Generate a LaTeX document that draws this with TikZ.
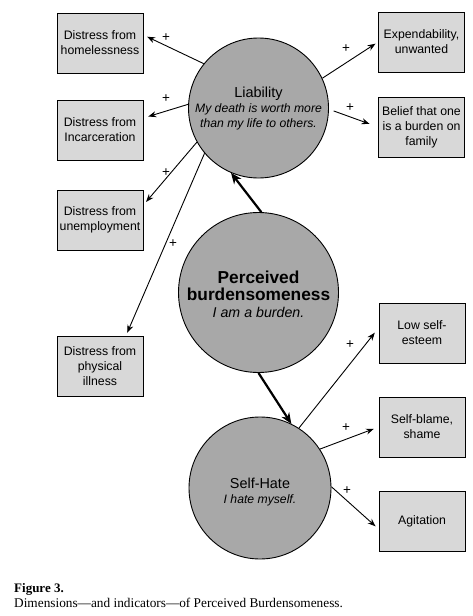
\documentclass[tikz,border=0pt]{standalone}
\usepackage{fontspec}
\setmainfont{Liberation Sans}
\newfontfamily\capfont{Liberation Serif}
\usetikzlibrary{arrows.meta}
\definecolor{circfill}{HTML}{A8A8A8}
\definecolor{boxfill}{HTML}{D8D8D8}
\begin{document}
\begin{tikzpicture}[x=1pt,y=-1pt,
  box/.style={draw, line width=0.9pt, fill=boxfill, minimum width=86pt, minimum height=60pt, inner sep=0pt, align=center, font=\fontsize{12.3}{15}\selectfont},
  circ/.style={circle, draw, line width=0.9pt, fill=circfill, inner sep=0pt},
  arr/.style={line width=0.9pt, -{Stealth[length=8pt,width=6pt]}},
  bigarr/.style={line width=2.2pt, -{Stealth[length=11pt,width=9pt]}},
  plus/.style={font=\fontsize{13.5}{14}\selectfont, inner sep=0pt},
  ctext/.style={align=center, inner sep=0pt}]
\useasboundingbox (0,0) rectangle (473,616);
\fill[white] (0,0) rectangle (473,616);
% circles
\node[circ, minimum size=140pt] (liab) at (258.5,108) {};
\node[circ, minimum size=160pt] (perc) at (258.5,292.5) {};
\node[circ, minimum size=142pt] (self) at (260,488) {};
\node[ctext, font=\fontsize{12.2}{15}\selectfont] (liabt) at (258.5,109)
  {\fontsize{14.5}{18}\selectfont Liability\\
   \fontsize{12.2}{15}\selectfont\itshape My death is worth more\\
   \fontsize{12.2}{15}\selectfont\itshape than my life to others.};
\node[ctext, font=\fontsize{14.2}{17}\selectfont] (perct) at (258.5,294.5)
  {\fontsize{17.3}{20}\selectfont\bfseries Perceived\\
   \fontsize{17.3}{20}\selectfont\bfseries burdensomeness\\
   \fontsize{14.2}{18}\selectfont\itshape I am a burden.};
\node[ctext, font=\fontsize{12.2}{15}\selectfont] (selft) at (260,492.5)
  {\fontsize{14.4}{18}\selectfont Self-Hate\\
   \fontsize{12.2}{15}\selectfont\itshape I hate myself.};
% boxes
\node[box] (home) at (100,43) {Distress from\\homelessness};
\node[box] (incar) at (100,130) {Distress from\\Incarceration};
\node[box] (unemp) at (100,220) {Distress from\\unemployment};
\node[box] (phys) at (100,366) {Distress from\\physical\\illness};
\node[box] (expend) at (421.5,42) {Expendability,\\unwanted};
\node[box] (belief) at (421.5,127) {Belief that one\\is a burden on\\family};
\node[box] (lowse) at (422,333) {Low self-\\esteem};
\node[box] (blame) at (422,427) {Self-blame,\\shame};
\node[box] (agit) at (422,521) {Agitation};
% thin arrows
\draw[arr, shorten >=4pt] (liab.141) -- ([yshift=8pt]home.east);
\draw[arr, shorten >=5pt] (liab.177) -- ([yshift=12pt]incar.east);
\draw[arr, shorten >=4pt] (liab.209) -- ([yshift=15pt]unemp.east);
\draw[arr, shorten >=3pt] (liab.220) -- ([xshift=26pt]phys.north);
\draw[arr, shorten >=3pt] (liab.25) -- (expend.west);
\draw[arr, shorten <=5pt, shorten >=9pt] (liab.-1) -- (belief.west);
\draw[arr, shorten >=6pt] (self.57) -- ([yshift=5pt]lowse.west);
\draw[arr, shorten >=5pt] (self.33) -- (blame.west);
\draw[arr, shorten >=4pt] (self.1) -- ([yshift=-8pt]agit.west);
% thick arrows
\draw[bigarr] (perc.88) -- (liab.247);
\draw[bigarr] (perc.270) -- (self.64);
% plus signs
\node[plus] (p1) at (166,38) {+};
\node[plus] (p2) at (166,99) {+};
\node[plus] (p3) at (166,173) {+};
\node[plus] (p4) at (173,244) {+};
\node[plus] (p5) at (346,49) {+};
\node[plus] (p6) at (350,108) {+};
\node[plus] (p7) at (350,345) {+};
\node[plus] (p8) at (346,428) {+};
\node[plus] (p9) at (347,491) {+};
% caption
\node[anchor=base west, inner sep=0pt, font=\capfont\fontsize{13}{16}\selectfont\bfseries] (fig) at (14,592) {Figure 3.};
\node[anchor=base west, inner sep=0pt, font=\capfont\fontsize{13.3}{16}\selectfont] (cap) at (14,607) {Dimensions—and indicators—of Perceived Burdensomeness.};
\end{tikzpicture}
\end{document}
